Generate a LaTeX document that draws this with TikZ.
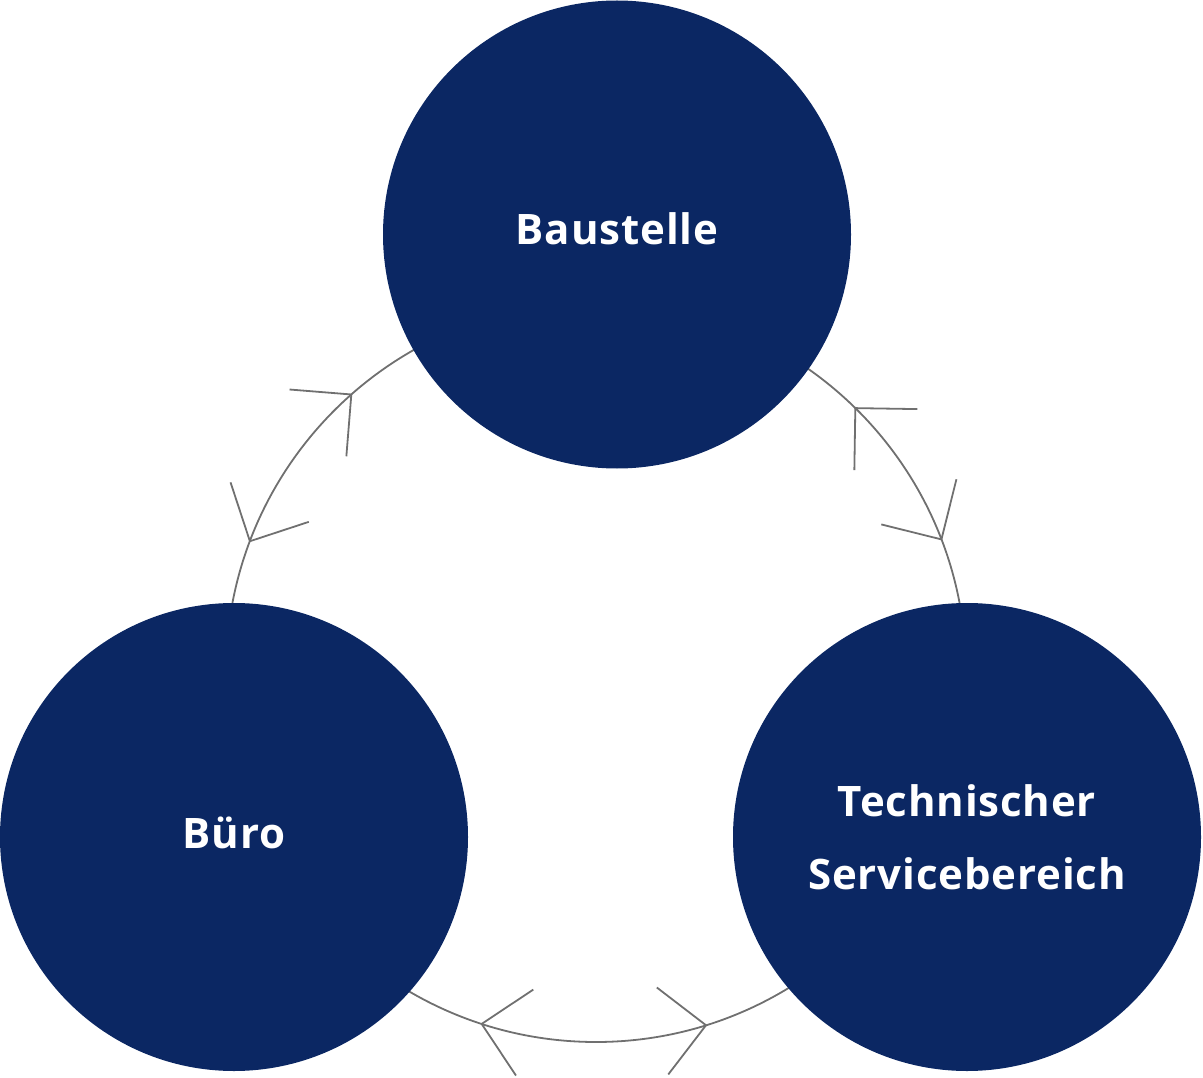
\documentclass[tikz,border=0pt]{standalone}
\usepackage{fontspec}
\setmainfont{Open Sans}
\definecolor{marine}{RGB}{11,39,99}
\definecolor{grau}{RGB}{112,112,112}

\begin{document}
\begin{tikzpicture}[x=1pt,y=-1pt]

\newcommand{\kd}{468pt}
\newcommand{\rr}{370}
\newcommand{\armlang}{62}

\tikzstyle{kreis}=[circle,fill=marine,minimum size=\kd,inner sep=0]
\tikzstyle{titel}=[text=white,anchor=base,align=center,font=\fontsize{42}{73}\selectfont\bfseries\addfontfeatures{LetterSpace=2}]
\tikzstyle{ring}=[grau,line width=1.8pt,line join=miter]

\useasboundingbox (0,0) rectangle (1203,1078);

\coordinate (mitte) at (596,672);

\draw[ring] (mitte) circle (\rr);

% polar angles are mirrored because of y=-1pt
\foreach \w/\s in {131.4/40.4, 159.3/243.2, 45.5/134.1, 21/-59, 252/168.6, 287.3/7.5}
{
    \path (mitte) ++({-(\w)}:\rr) coordinate (spitze);
    \draw[ring] (spitze) ++({-(\s)-135}:\armlang) -- (spitze) -- ++({-(\s)-225}:\armlang);
}

\node[kreis] (baustelle) at (617,234.5) {};
\node[kreis] (buero) at (234,837) {};
\node[kreis] (technik) at (967,837) {};

\node[titel] (baustelletext) at (617,245) {Baustelle};
\node[titel] (buerotext) at (234,848) {Büro};
\node[titel,anchor=center] (techniktext) at (967,837) {Technischer\\Servicebereich};

\end{tikzpicture}
\end{document}
